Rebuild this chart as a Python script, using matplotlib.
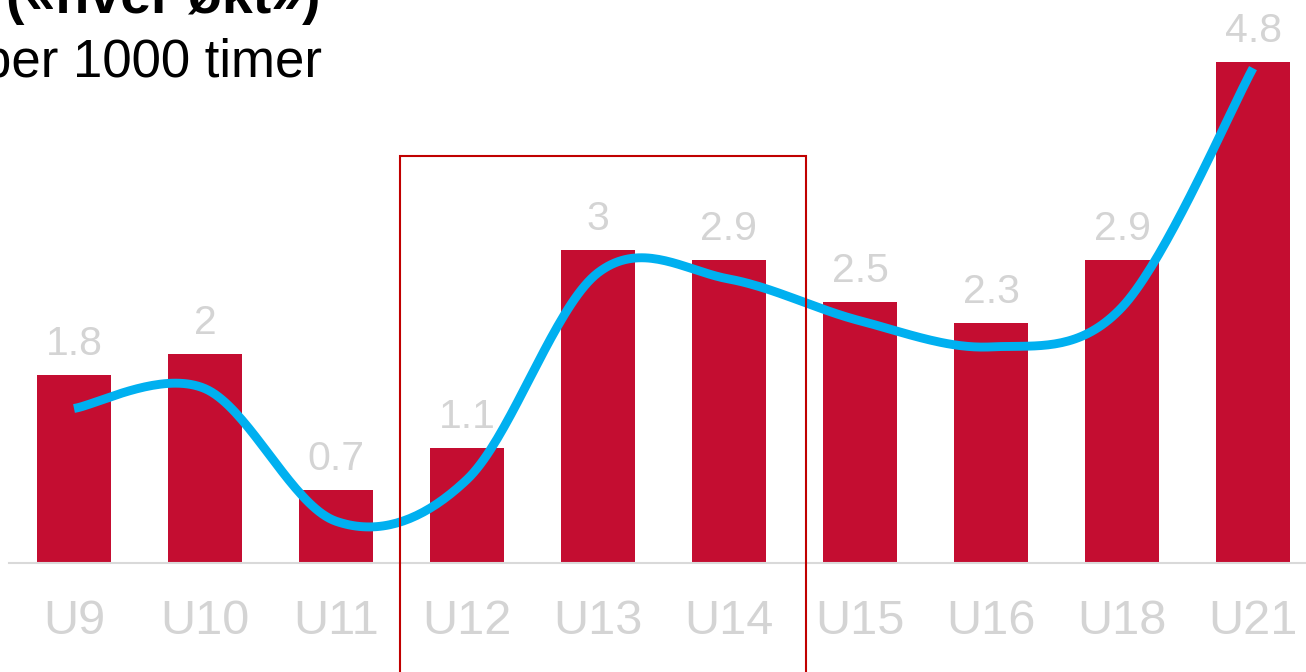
import numpy as np
import matplotlib
matplotlib.use("Agg")
import matplotlib.pyplot as plt
from matplotlib.patches import Rectangle

# Injury rates per age group
groups = ["U9", "U10", "U11", "U12", "U13", "U14", "U15", "U16", "U18", "U21"]
rates = [1.8, 2.0, 0.7, 1.1, 3.0, 2.9, 2.5, 2.3, 2.9, 4.8]
# Smoothed trend drawn over the bars
trend = [1.48, 1.67, 0.40, 0.80, 2.78, 2.72, 2.32, 2.07, 2.45, 4.74]
title_bold = "(«hver økt»)"
title_sub = "per 1000 timer"

BAR = "#c40d31"
LINE = "#00b0f0"
GREY = "#d4d4d4"
FONT = "Liberation Sans"

W, H = 1306, 672
fig = plt.figure(figsize=(W / 100, H / 100), dpi=100)
ymax = 5.3
unit_px = 104.4
x0_px, step_px, base_px = 74, 131, 563
left = (x0_px - 0.5 * step_px) / W
width = 10 * step_px / W
bottom = (H - base_px) / H
height = ymax * unit_px / H
ax = fig.add_axes([left, bottom, width, height])

x = np.arange(len(groups))
ax.bar(x, rates, width=0.57, color=BAR, zorder=2)

# value labels
for xi, v in zip(x, rates):
    ax.annotate(f"{v:g}", (xi, v), xytext=(0, 14.4), textcoords="offset points",
                ha="center", va="baseline", fontsize=29.5, color=GREY,
                family=FONT)


def catmull_rom(xs, ys, n=40):
    """Smooth curve through (xs, ys) using Catmull-Rom segments."""
    xs = np.asarray(xs, float)
    ys = np.asarray(ys, float)
    px = np.concatenate([[xs[0]], xs, [xs[-1]]])
    py = np.concatenate([[ys[0]], ys, [ys[-1]]])
    out_x, out_y = [], []
    t = np.linspace(0, 1, n)
    for i in range(1, len(px) - 2):
        p0, p1, p2, p3 = (np.array([px[j], py[j]]) for j in range(i - 1, i + 3))
        c1 = p1 + (p2 - p0) / 6
        c2 = p2 - (p3 - p1) / 6
        seg = ((1 - t) ** 3)[:, None] * p1 + (3 * (1 - t) ** 2 * t)[:, None] * c1 \
            + (3 * (1 - t) * t ** 2)[:, None] * c2 + (t ** 3)[:, None] * p2
        out_x.extend(seg[:, 0])
        out_y.extend(seg[:, 1])
    return np.array(out_x), np.array(out_y)


sx, sy = catmull_rom(x, trend)
ax.plot(sx, sy, color=LINE, lw=6.4, solid_capstyle="butt", zorder=3)

# highlight box around U12-U14
box = Rectangle((2.49, -2.0), 3.10, 3.90 + 2.0, fill=False, edgecolor="#c00000",
                lw=1.5, clip_on=False, zorder=4)
ax.add_patch(box)

ax.set_xlim(-0.5, 9.5)
ax.set_ylim(0, ymax)
ax.set_xticks(x)
ax.set_xticklabels(groups, fontsize=35, color=GREY, family=FONT)
ax.tick_params(axis="x", length=0, pad=26)
ax.set_yticks([])
for side in ("left", "right", "top"):
    ax.spines[side].set_visible(False)
ax.spines["bottom"].set_color("#d9d9d9")
ax.spines["bottom"].set_linewidth(1.5)
ax.patch.set_alpha(0)

fig.text(320 / W, (H - 13) / H, title_bold, ha="right", va="baseline",
         fontsize=40, fontweight="bold", family=FONT, color="black")
fig.text(322 / W, (H - 77) / H, title_sub, ha="right", va="baseline",
         fontsize=38, family=FONT, color="black")

fig.savefig("out.png", dpi=100)
